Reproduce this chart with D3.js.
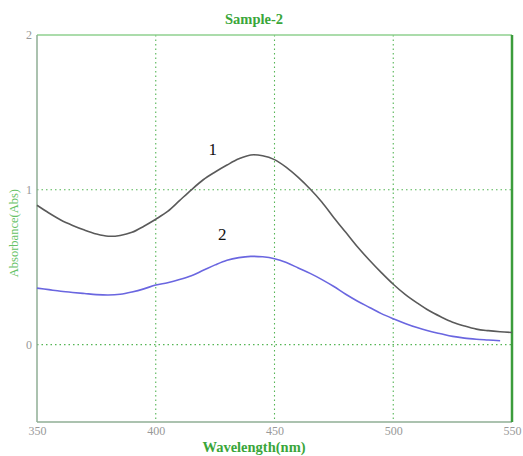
<!DOCTYPE html>
<html>
<head>
<meta charset="utf-8">
<script src="https://cdn.jsdelivr.net/npm/d3@7"></script>
<style>
  html, body { margin: 0; padding: 0; background: #fff; }
  svg { display: block; }
</style>
</head>
<body>
<svg id="chart" width="523" height="456"></svg>
<script>
// Absorption spectra, Sample-2
const wavelengths = [350, 355, 360, 365, 370, 375, 380, 385, 390, 395, 400, 405, 410, 415, 420,
  425, 430, 435, 440, 445, 450, 455, 460, 465, 470, 475, 480, 485, 490, 495, 500, 505, 510, 515,
  520, 525, 530, 535, 540, 545, 550];
const curve1 = [0.90, 0.85, 0.805, 0.77, 0.74, 0.715, 0.70, 0.705, 0.725, 0.765, 0.81, 0.86, 0.93, 1.00,
  1.065, 1.115, 1.16, 1.20, 1.225, 1.22, 1.195, 1.145, 1.08, 1.005, 0.92, 0.82, 0.725, 0.63, 0.545, 0.465,
  0.39, 0.325, 0.27, 0.22, 0.18, 0.145, 0.12, 0.10, 0.09, 0.083, 0.078];
const curve2 = [0.365, 0.355, 0.345, 0.337, 0.33, 0.323, 0.32, 0.325, 0.34, 0.36, 0.385, 0.40, 0.42, 0.445,
  0.48, 0.515, 0.545, 0.562, 0.57, 0.567, 0.555, 0.53, 0.495, 0.46, 0.42, 0.375, 0.325, 0.28, 0.24, 0.20,
  0.167, 0.137, 0.11, 0.088, 0.07, 0.053, 0.042, 0.035, 0.03, 0.025, null];
const xTicks = [350, 400, 450, 500, 550];
const yTicks = [0, 1, 2];
const curveLabels = [{ text: "1", wl: 424, abs: 1.225 }, { text: "2", wl: 428, abs: 0.675 }];

const svg = d3.select("#chart");
const m = { left: 37, right: 512, top: 35, bottom: 422 };

const x = d3.scaleLinear().domain([350, 550]).range([m.left, m.right]);
const y = d3.scaleLinear().domain([-0.5, 2]).range([m.bottom, m.top]);

const green = "#3aa63a";
const serif = "'Liberation Serif', 'DejaVu Serif', serif";

// dotted grid
const grid = svg.append("g").attr("stroke", "#55b555").attr("stroke-width", 1.1)
  .attr("stroke-dasharray", "1.5,3");
grid.selectAll("line.v").data(xTicks.filter(d => d > 350 && d < 550)).join("line")
  .attr("class", "v")
  .attr("x1", d => x(d)).attr("x2", d => x(d)).attr("y1", m.top).attr("y2", m.bottom);
grid.selectAll("line.h").data(yTicks.filter(d => d > -0.5 && d < 2)).join("line")
  .attr("class", "h")
  .attr("x1", m.left).attr("x2", m.right).attr("y1", d => y(d)).attr("y2", d => y(d));

// frame
svg.append("line").attr("x1", m.left).attr("x2", m.right).attr("y1", m.top).attr("y2", m.top)
  .attr("stroke", "#8fd08f").attr("stroke-width", 1.5);
svg.append("line").attr("x1", m.left).attr("x2", m.right).attr("y1", m.bottom).attr("y2", m.bottom)
  .attr("stroke", "#8fae94").attr("stroke-width", 1.5);
svg.append("line").attr("x1", m.left).attr("x2", m.left).attr("y1", m.top).attr("y2", m.bottom)
  .attr("stroke", "#8fae94").attr("stroke-width", 1.5);
svg.append("line").attr("x1", m.right).attr("x2", m.right).attr("y1", m.top).attr("y2", m.bottom)
  .attr("stroke", "#3c9c3c").attr("stroke-width", 2.5);

// axes tick labels
const xAxis = d3.axisBottom(x).tickValues(xTicks).tickSize(0).tickPadding(4);
svg.append("g").attr("transform", `translate(0,${m.bottom})`).call(xAxis)
  .call(g => g.select(".domain").remove())
  .selectAll("text").attr("fill", "#999").attr("font-family", serif).attr("font-size", 12);

const yAxis = d3.axisLeft(y).tickValues(yTicks).tickSize(0).tickPadding(5).tickFormat(d3.format("d"));
svg.append("g").attr("transform", `translate(${m.left},0)`).call(yAxis)
  .call(g => g.select(".domain").remove())
  .selectAll("text").attr("fill", "#999").attr("font-family", serif).attr("font-size", 12);

// titles
svg.append("text").attr("x", 254).attr("y", 24).attr("text-anchor", "middle")
  .attr("font-family", serif).attr("font-weight", "bold").attr("font-size", 14.5)
  .attr("fill", green).text("Sample-2");
svg.append("text").attr("x", 254).attr("y", 452).attr("text-anchor", "middle")
  .attr("font-family", serif).attr("font-weight", "bold").attr("font-size", 14.5)
  .attr("fill", green).text("Wavelength(nm)");
svg.append("text").attr("transform", `translate(18,${y(0.72)}) rotate(-90)`)
  .attr("text-anchor", "middle").attr("font-family", serif).attr("font-size", 12.5)
  .attr("fill", "#66c266").text("Absorbance(Abs)");

// spectra
const line = (vals) => d3.line()
  .defined((d, i) => vals[i] != null)
  .x((d, i) => x(wavelengths[i]))
  .y((d, i) => y(vals[i]))
  .curve(d3.curveCatmullRom.alpha(0.5))(wavelengths);

svg.append("path").attr("d", line(curve1)).attr("fill", "none")
  .attr("stroke", "#5a5a5a").attr("stroke-width", 1.6);
svg.append("path").attr("d", line(curve2)).attr("fill", "none")
  .attr("stroke", "#6a66e0").attr("stroke-width", 1.6);

// curve labels
svg.selectAll("text.curve").data(curveLabels).join("text")
  .attr("class", "curve")
  .attr("x", d => x(d.wl)).attr("y", d => y(d.abs))
  .attr("text-anchor", "middle").attr("font-family", serif).attr("font-size", 17)
  .attr("fill", "#111").text(d => d.text);
</script>
</body>
</html>
